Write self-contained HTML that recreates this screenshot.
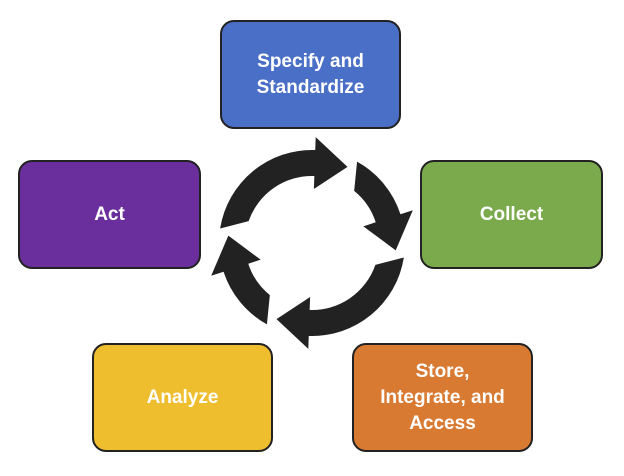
<!DOCTYPE html>
<html><head><style>
body{margin:0;width:624px;height:476px;background:#fff;position:relative;overflow:hidden;font-family:"Liberation Sans",sans-serif}
.b{position:absolute;box-sizing:border-box;border:2px solid #222;border-radius:14px;color:#fff;font-weight:bold;font-size:19px;line-height:26px;display:flex;align-items:center;justify-content:center;text-align:center}
svg{position:absolute;left:0;top:0}
</style></head><body>
<div class="b" style="left:220px;top:20px;width:181px;height:109px;background:#4A6FC6">Specify and<br>Standardize</div>
<div class="b" style="left:420px;top:160px;width:183px;height:109px;background:#7AAA4C">Collect</div>
<div class="b" style="left:352px;top:343px;width:181px;height:109px;background:#D97A33">Store,<br>Integrate, and<br>Access</div>
<div class="b" style="left:92px;top:343px;width:181px;height:109px;background:#EFBE2E">Analyze</div>
<div class="b" style="left:18px;top:160px;width:183px;height:109px;background:#6A2F9C">Act</div>
<svg width="624" height="476" id="s"></svg>
<script>
var cx=312,cy=243,ro=93,ri=67,rm=80,hw=26,s="";
function p(a,r){a=a*Math.PI/180;return [cx+r*Math.sin(a),cy-r*Math.cos(a)];}
var tips=[25,95,205,275];
tips.forEach(function(t,i){
 var prev=tips[(i+3)%4];if(prev>t)prev-=360;
 var a0=prev+4,a1=t-23;
 var A=p(a0,ro),B=p(a1,ro),C=p(a1,rm+hw),D=p(t,rm+4),E=p(a1,rm-hw),F=p(a1,ri),G=p(a0+10,ri);
 s+='<path fill="#222" d="M'+A+' A'+ro+' '+ro+' 0 0 1 '+B+' L'+C+' L'+D+' L'+E+' L'+F+' A'+ri+' '+ri+' 0 0 0 '+G+' Z"/>';
});
document.getElementById('s').innerHTML=s;
</script>
</body></html>
